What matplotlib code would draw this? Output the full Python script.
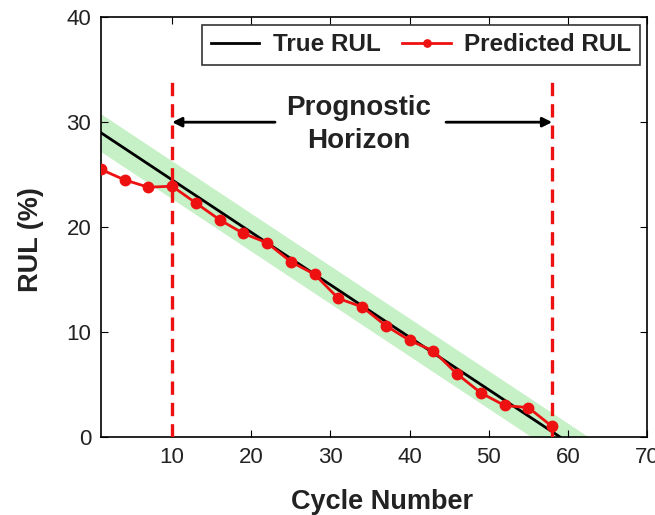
import matplotlib
matplotlib.use("Agg")
import matplotlib.pyplot as plt
import numpy as np

plt.rcParams['font.family'] = ['Liberation Sans', 'DejaVu Sans']

# Data
cycles = [1, 4, 7, 10, 13, 16, 19, 22, 25, 28, 31, 34, 37, 40, 43, 46, 49, 52, 55, 58]
pred_rul = [25.5, 24.5, 23.8, 23.9, 22.3, 20.7, 19.4, 18.5, 16.7, 15.5,
            13.2, 12.4, 10.6, 9.2, 8.2, 6.0, 4.2, 3.0, 2.8, 1.0]
true_x = [1, 59]
true_rul = [29.0, 0.0]
band_x = [1, 63]
band_halfwidth = 1.8
horizon_start = 10
horizon_end = 58
xticks = [10, 20, 30, 40, 50, 60, 70]
yticks = [0, 10, 20, 30, 40]

fig = plt.figure(figsize=(6.55, 5.15), dpi=100)
ax = fig.add_axes([0.154, 0.1515, 0.834, 0.815])

# accuracy band
bx = np.array(band_x, dtype=float)
slope = (true_rul[1] - true_rul[0]) / (true_x[1] - true_x[0])
bt = true_rul[0] + slope * (bx - true_x[0])
ax.fill_between(bx, bt - band_halfwidth, bt + band_halfwidth, color='#c6f0c6', lw=0, zorder=1)

ax.plot(true_x, true_rul, color='black', lw=2, label='True RUL', zorder=3)
ax.plot(cycles, pred_rul, color='#ee1111', lw=2, marker='o', markersize=7.5,
        label='Predicted RUL', zorder=4)

for xv in (horizon_start, horizon_end):
    ax.plot([xv, xv], [0, 34.5], color='#ee1111', lw=2.4, ls=(0, (4, 2.4)), zorder=5)

mid = 33.6
ax.annotate('', xy=(horizon_start, 30), xytext=(23.0, 30),
            arrowprops=dict(arrowstyle='-|>', color='black', lw=2, mutation_scale=14, shrinkA=0, shrinkB=0))
ax.annotate('', xy=(horizon_end, 30), xytext=(44.6, 30),
            arrowprops=dict(arrowstyle='-|>', color='black', lw=2, mutation_scale=14, shrinkA=0, shrinkB=0))
ax.text(mid, 29.8, 'Prognostic\nHorizon', ha='center', va='center', fontsize=20,
        fontweight='bold', color='#222222', linespacing=1.35)

ax.set_xlim(1, 70)
ax.set_ylim(0, 40)
ax.set_xticks(xticks)
ax.set_yticks(yticks)
ax.tick_params(direction='in', top=True, right=True, labelsize=16, length=5, pad=7,
               labelcolor='#222222')
for s in ax.spines.values():
    s.set_linewidth(1.2)

ax.set_xlabel('Cycle Number', fontsize=19.5, fontweight='bold', color='#222222')
ax.set_ylabel('RUL (%)', fontsize=19.5, fontweight='bold', color='#222222')
ax.xaxis.set_label_coords(0.515, -0.125)
ax.yaxis.set_label_coords(-0.105, 0.47)

leg = ax.legend(loc='upper right', ncol=2, prop={'weight': 'bold', 'size': 17.5},
                frameon=True, fancybox=False, edgecolor='black', borderaxespad=0.3,
                handlelength=2.0, columnspacing=0.9, handletextpad=0.55,
                markerscale=0.7, borderpad=0.35)
leg.get_frame().set_linewidth(1.2)
for t in leg.get_texts():
    t.set_color('#222222')

fig.savefig('out.png', dpi=100)
